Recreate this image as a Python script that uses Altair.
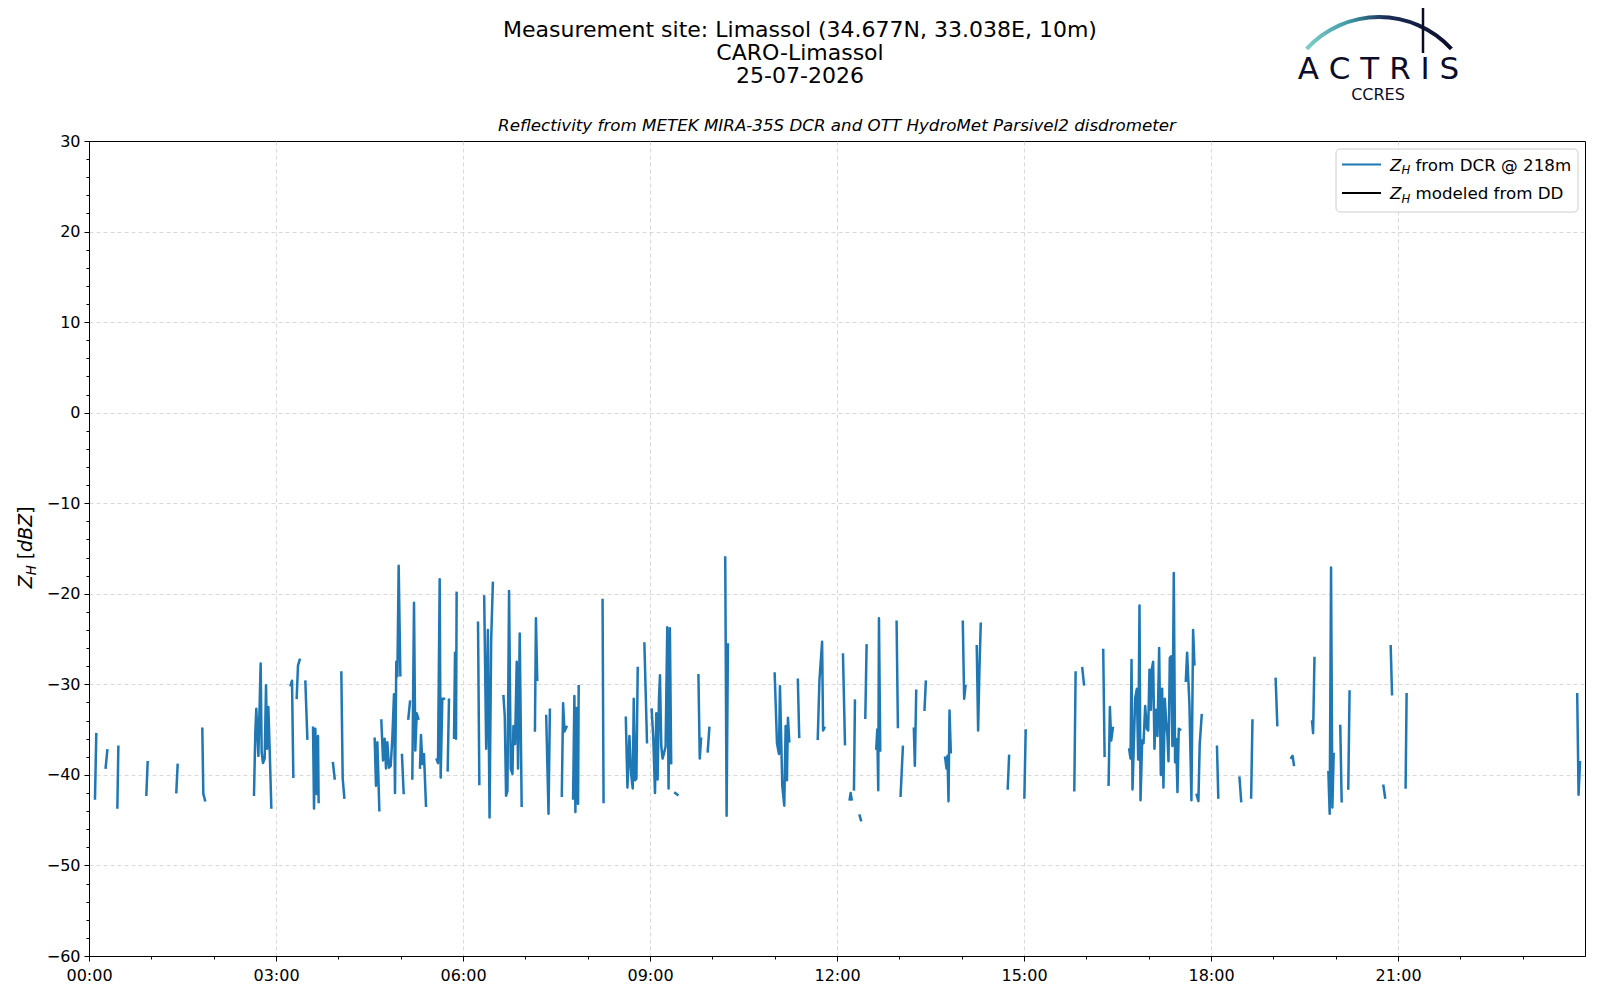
import altair as alt
import pandas as pd

# ---- data: DCR reflectivity segments (time in hours UTC, Z_H in dBZ) ----
seg_times = [
    [0.096, 0.117],
    [0.267, 0.294],
    [0.455, 0.471],
    [0.920, 0.941],
    [1.401, 1.422],
    [1.818, 1.834, 1.861],
    [2.647, 2.668, 2.684, 2.717, 2.754, 2.770, 2.791, 2.818, 2.840, 2.856, 2.877, 2.898, 2.925],
    [3.235, 3.257, 3.278],
    [3.332, 3.353, 3.380],
    [3.471, 3.503],
    [3.594, 3.610, 3.631, 3.652, 3.674, 3.684],
    [3.914, 3.941],
    [4.048, 4.070, 4.096],
    [4.583, 4.604, 4.626, 4.658],
    [4.690, 4.717, 4.743, 4.765, 4.786, 4.813, 4.840, 4.866, 4.893, 4.909, 4.930, 4.947, 4.968, 4.995],
    [5.021, 5.048],
    [5.123, 5.150],
    [5.187, 5.214, 5.235, 5.257, 5.283],
    [5.310, 5.326, 5.348, 5.374, 5.406],
    [5.578, 5.599, 5.626, 5.642, 5.668, 5.695],
    [5.754, 5.775],
    [5.856, 5.872, 5.888, 5.898],
    [6.241, 6.262],
    [6.340, 6.372, 6.399, 6.426, 6.452, 6.479],
    [6.649, 6.670, 6.691, 6.713, 6.739, 6.766, 6.793, 6.809, 6.835, 6.862, 6.883, 6.910, 6.941],
    [7.154, 7.170, 7.191],
    [7.335, 7.372, 7.394],
    [7.585, 7.606, 7.628, 7.660],
    [7.766, 7.787, 7.803, 7.824, 7.846, 7.856],
    [8.239, 8.255],
    [8.612, 8.638, 8.670, 8.697, 8.723, 8.739, 8.761, 8.782, 8.803],
    [8.910, 8.952],
    [9.027, 9.053, 9.080, 9.101, 9.122, 9.144, 9.160, 9.181, 9.202, 9.250, 9.277, 9.298, 9.319, 9.340],
    [9.404, 9.441],
    [9.777, 9.798, 9.819],
    [9.926, 9.952],
    [10.207, 10.229, 10.250],
    [11.000, 11.037, 11.069, 11.085, 11.122, 11.154, 11.176, 11.197, 11.213, 11.234],
    [11.372, 11.394],
    [11.691, 11.718, 11.761, 11.777, 11.798],
    [12.096, 12.128],
    [12.203, 12.219, 12.235],
    [12.272, 12.288],
    [12.363, 12.384],
    [12.454, 12.475],
    [12.630, 12.646, 12.662, 12.673, 12.694],
    [12.956, 12.977],
    [13.020, 13.057],
    [13.233, 13.249, 13.271],
    [13.404, 13.425],
    [13.735, 13.757, 13.773, 13.789, 13.805, 13.826],
    [14.018, 14.040, 14.061],
    [14.242, 14.264, 14.285, 14.306],
    [14.739, 14.761],
    [15.006, 15.027],
    [15.807, 15.828],
    [15.935, 15.962],
    [16.271, 16.293],
    [16.357, 16.378, 16.399, 16.426],
    [16.688, 16.709, 16.725, 16.741, 16.784, 16.810, 16.832, 16.853, 16.869, 16.896, 16.917, 16.944,
     16.971, 16.992, 17.013, 17.035, 17.051, 17.072, 17.093, 17.115, 17.141, 17.168, 17.195, 17.216,
     17.237, 17.259, 17.280, 17.301, 17.318, 17.339, 17.360, 17.381, 17.403, 17.424, 17.440, 17.462,
     17.483, 17.505],
    [17.596, 17.617, 17.654, 17.686, 17.713, 17.734],
    [17.771, 17.798, 17.819, 17.851],
    [18.096, 18.117],
    [18.457, 18.484],
    [18.644, 18.665],
    [19.037, 19.064],
    [19.287, 19.309, 19.330],
    [19.622, 19.638, 19.660],
    [19.883, 19.904, 19.926, 19.947, 19.968],
    [20.074, 20.096],
    [20.202, 20.223],
    [20.766, 20.793],
    [20.883, 20.904],
    [21.122, 21.138],
    [23.875, 23.897, 23.920],
]

seg_zh = [
    [-42.6, -35.5],
    [-39.2, -37.3],
    [-43.6, -36.9],
    [-42.2, -38.6],
    [-41.9, -38.9],
    [-34.9, -42.1, -42.8],
    [-42.2, -35.3, -32.7, -37.9, -27.7, -37.5, -38.7, -38.2, -30.1, -37.1, -32.5, -37.1, -43.6],
    [-30.1, -29.6, -40.2],
    [-31.5, -27.9, -27.3],
    [-29.7, -36.0],
    [-34.8, -43.7, -34.9, -42.1, -35.7, -43.0],
    [-38.7, -40.4],
    [-28.7, -40.4, -42.5],
    [-36.0, -41.2, -36.4, -43.9],
    [-34.0, -38.4, -36.0, -39.3, -36.4, -39.2, -39.0, -36.0, -31.1, -42.0, -27.5, -29.1, -16.9, -29.0],
    [-37.8, -42.0],
    [-33.8, -31.9],
    [-40.4, -21.0, -37.3, -33.2, -33.8],
    [-39.2, -35.6, -38.8, -37.7, -43.4],
    [-38.3, -38.7, -18.4, -40.3, -31.6, -31.6],
    [-39.5, -31.7],
    [-35.9, -26.5, -36.0, -19.9],
    [-23.2, -41.0],
    [-20.3, -37.1, -24.0, -44.7, -25.1, -18.8],
    [-31.3, -33.5, -42.3, -41.8, -19.7, -39.3, -39.9, -34.6, -36.6, -27.5, -39.3, -24.4, -43.4],
    [-35.1, -22.7, -29.5],
    [-33.5, -44.3, -32.8],
    [-42.3, -32.1, -35.2, -34.7],
    [-42.6, -31.3, -44.1, -32.6, -43.2, -30.2],
    [-20.7, -43.0],
    [-33.7, -41.4, -35.7, -39.9, -41.5, -31.6, -40.6, -40.4, -28.2],
    [-25.5, -36.4],
    [-32.8, -36.0, -42.0, -33.2, -40.5, -31.6, -29.0, -36.8, -38.2, -36.9, -23.7, -41.5, -23.8, -38.7],
    [-42.0, -42.2],
    [-29.0, -38.2, -36.0],
    [-37.4, -34.8],
    [-16.0, -44.5, -25.6],
    [-28.8, -36.5, -37.7, -30.2, -41.2, -43.4, -34.6, -40.6, -33.7, -36.3],
    [-29.5, -35.8],
    [-36.0, -29.6, -25.3, -35.1, -34.8],
    [-26.7, -36.6],
    [-42.7, -42.0, -42.7],
    [-41.6, -31.8],
    [-44.5, -45.0],
    [-33.7, -25.7],
    [-37.1, -35.0, -41.7, -22.7, -37.3],
    [-23.1, -34.7],
    [-42.3, -36.9],
    [-34.9, -39.0, -30.7],
    [-32.8, -29.7],
    [-38.1, -39.3, -37.9, -42.9, -32.9, -37.5],
    [-23.1, -31.6, -30.2],
    [-25.8, -35.1, -28.4, -23.3],
    [-41.5, -37.9],
    [-42.5, -35.1],
    [-41.7, -28.7],
    [-28.2, -30.0],
    [-26.2, -37.9],
    [-41.1, -32.5, -36.2, -34.8],
    [-37.2, -38.2, -27.3, -41.6, -31.5, -30.5, -38.3, -21.3, -42.8, -36.2, -36.5, -32.4,
     -34.9, -35.1, -28.4, -32.8, -28.3, -27.5, -37.1, -32.8, -35.7, -26.0, -40.0, -30.5,
     -41.4, -31.6, -34.0, -35.7, -38.5, -27.1, -26.9, -36.8, -17.7, -38.6, -36.0, -41.9,
     -34.9, -35.0],
    [-29.6, -26.5, -32.2, -42.8, -24.0, -27.8],
    [-42.2, -42.9, -36.6, -33.4],
    [-36.9, -42.5],
    [-40.3, -42.9],
    [-42.5, -34.0],
    [-29.4, -34.5],
    [-38.1, -37.9, -38.9],
    [-34.1, -35.4, -27.1],
    [-39.7, -44.3, -17.1, -43.6, -37.7],
    [-34.6, -42.9],
    [-41.5, -30.8],
    [-41.2, -42.5],
    [-25.8, -31.1],
    [-41.4, -31.1],
    [-31.1, -42.2, -38.6],
]

x_major = [0, 3, 6, 9, 12, 15, 18, 21]
x_minor = [h for h in range(1, 24) if h % 3]
x_grid = [3, 6, 9, 12, 15, 18, 21]
y_major = [-60, -50, -40, -30, -20, -10, 0, 10, 20, 30]
y_minor = [v for v in range(-58, 30, 2) if v % 10]
y_grid = [-50, -40, -30, -20, -10, 0, 10, 20]

title_lines = ["Measurement site: Limassol (34.677N, 33.038E, 10m)", "CARO-Limassol", "25-07-2026"]
subtitle = "Reflectivity from METEK MIRA-35S DCR and OTT HydroMet Parsivel2 disdrometer"
legend_labels = ["from DCR @ 218m", "modeled from DD"]
legend_colors = ["#1f77b4", "#000000"]

rows = []
for i, (ts, vs) in enumerate(zip(seg_times, seg_zh)):
    for t, v in zip(ts, vs):
        rows.append({"seg": i, "t": t, "zh": v})
df = pd.DataFrame(rows)
one = pd.DataFrame({"k": [0]})

# layout: plot area origin on the page (page has an 8px margin)
OX, OY = 89, 141
W, H = 1496, 815
FONT = "DejaVu Sans"
NAVY = "#0b0c2a"


def px(x):
    return x - OX


def py(y):
    return y - OY


xs = alt.Scale(domain=[0, 24], nice=False, zero=False)
ys = alt.Scale(domain=[-60, 30], nice=False, zero=False)

# grid only (interior lines, so the frame stays solid)
grid = alt.Chart(df).mark_point(opacity=0).encode(
    x=alt.X("t:Q", scale=xs, title=None,
            axis=alt.Axis(values=x_grid, orient="bottom", grid=True, labels=False,
                          ticks=False, domain=False)),
    y=alt.Y("zh:Q", scale=ys, title=None,
            axis=alt.Axis(values=y_grid, orient="left", grid=True, labels=False,
                          ticks=False, domain=False)),
)

line = alt.Chart(df).mark_line(
    color="#1f77b4", strokeWidth=2.5, strokeCap="square", strokeJoin="round"
).encode(
    x=alt.X("t:Q", scale=xs, title=None,
            axis=alt.Axis(values=x_major, orient="bottom", grid=False, labelFlush=False,
                          labelPadding=6,
                          labelExpr="(datum.value < 10 ? '0' : '') + datum.value + ':00'")),
    y=alt.Y("zh:Q", scale=ys, title=None,
            axis=alt.Axis(values=y_major, orient="left", grid=False, format="d", labelFlush=False)),
    detail="seg:N",
)

minor = alt.Chart(df).mark_point(opacity=0).encode(
    x=alt.X("t:Q", scale=xs, title=None,
            axis=alt.Axis(values=x_minor, orient="bottom", grid=False, labels=False,
                          domain=False, tickSize=3)),
    y=alt.Y("zh:Q", scale=ys, title=None,
            axis=alt.Axis(values=y_minor, orient="left", grid=False, labels=False,
                          domain=False, tickSize=3)),
)


def txt(text, x, y, size, italic=False, angle=0, align="left", color="black", font=FONT):
    kw = dict(text=text, fontSize=size, font=font, align=align, baseline="alphabetic",
              color=color, angle=angle)
    if italic:
        kw["fontStyle"] = "italic"
    return alt.Chart(one).mark_text(**kw).encode(x=alt.value(px(x)), y=alt.value(py(y)))


layers = [grid, line, minor]

# titles (absolute page coordinates)
for txt_line, yy in zip(title_lines, [37, 60, 83]):
    layers.append(txt(txt_line, 800, yy, 22, align="center"))
layers.append(txt(subtitle, OX + W / 2, 131, 16.7, italic=True, align="center"))

# y-axis label  Z_H [dBZ]
layers += [
    txt("Z", 32, 588.3, 19, italic=True, angle=270),
    txt("H", 36, 575.3, 13.3, italic=True, angle=270),
    txt("[", 32, 559.3, 19, angle=270),
    txt("dBZ", 32, 551.9, 19, italic=True, angle=270),
    txt("]", 32, 513.8, 19, angle=270),
]

# legend
layers.append(
    alt.Chart(one).mark_rect(fill="white", fillOpacity=0.8, stroke="#cccccc", strokeWidth=1,
                             cornerRadius=4)
    .encode(x=alt.value(px(1336)), x2=alt.value(px(1578)),
            y=alt.value(py(149)), y2=alt.value(py(212)))
)
for lab, col, yc in zip(legend_labels, legend_colors, [164.5, 193]):
    layers.append(
        alt.Chart(one).mark_rule(color=col, strokeWidth=2.2)
        .encode(x=alt.value(px(1342)), x2=alt.value(px(1381)), y=alt.value(py(yc)))
    )
    layers.append(txt("Z", 1390, yc + 6, 16.7, italic=True))
    layers.append(txt("H", 1401.4, yc + 9.5, 11.7, italic=True))
    layers.append(txt(lab, 1415.5, yc + 6, 16.7))

# ACTRIS logo
grad = alt.Gradient(
    gradient="linear",
    stops=[alt.GradientStop(color="#7fd0c8", offset=0),
           alt.GradientStop(color="#3f98a4", offset=0.3),
           alt.GradientStop(color="#1b2c58", offset=0.55),
           alt.GradientStop(color=NAVY, offset=1)],
    x1=0, x2=1, y1=0, y2=0,
)
layers.append(
    alt.Chart(one).mark_arc(radius=100, radius2=96, theta=5.452, theta2=7.114, color=grad)
    .encode(x=alt.value(px(1379)), y=alt.value(py(115)))
)
layers.append(
    alt.Chart(one).mark_rule(color=NAVY, strokeWidth=2.5)
    .encode(x=alt.value(px(1423)), y=alt.value(py(7)), y2=alt.value(py(53)))
)
layers.append(txt("A C T R I S", 1378.5, 78.7, 31, align="center", color=NAVY))
layers.append(txt("CCRES", 1378, 100, 16, align="center", color=NAVY))

chart = alt.layer(*layers).resolve_axis(x="independent", y="independent").properties(
    width=W, height=H,
    autosize=alt.AutoSizeParams(type="none"),
    padding={"left": OX - 8, "top": OY - 8, "right": 7, "bottom": 30},
).configure_view(
    stroke="black", strokeWidth=1
).configure_axis(
    domainColor="black", domainWidth=1, tickColor="black", tickWidth=1, tickSize=5,
    labelColor="black", labelFont=FONT, labelFontSize=16, labelPadding=4,
    gridColor="#cfcfcf", gridDash=[4, 3], gridWidth=0.8,
)

chart.save("out.html", embed_options={"renderer": "svg", "actions": False})
